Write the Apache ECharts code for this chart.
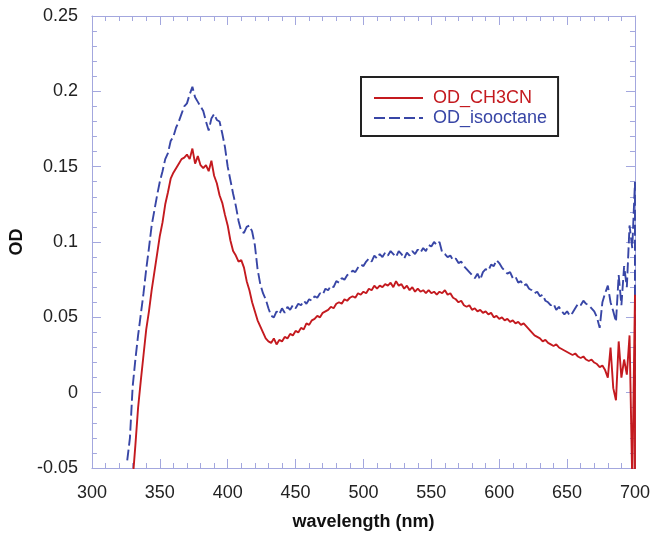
<!DOCTYPE html>
<html>
<head>
<meta charset="utf-8">
<script src="https://cdn.jsdelivr.net/npm/echarts@6/dist/echarts.min.js"></script>
<style>
  html, body { margin: 0; padding: 0; background: #fff; }
  #chart { width: 653px; height: 536px; }
</style>
</head>
<body>
<div id="chart"></div>
<script>
var wavelengths = [
  326, 328, 330, 332, 334, 336, 338, 340, 342, 344, 346, 348, 350, 352, 354, 356, 358, 360, 362, 364,
  366, 368, 370, 372, 374, 376, 378, 380, 382, 384, 386, 388, 390, 392, 394, 396, 398, 400, 402, 404,
  406, 408, 410, 412, 414, 416, 418, 420, 422, 424, 426, 428, 430, 432, 434, 436, 438, 440, 442, 444,
  446, 448, 450, 452, 454, 456, 458, 460, 462, 464, 466, 468, 470, 472, 474, 476, 478, 480, 482, 484,
  486, 488, 490, 492, 494, 496, 498, 500, 502, 504, 506, 508, 510, 512, 514, 516, 518, 520, 522, 524,
  526, 528, 530, 532, 534, 536, 538, 540, 542, 544, 546, 548, 550, 552, 554, 556, 558, 560, 562, 564,
  566, 568, 570, 572, 574, 576, 578, 580, 582, 584, 586, 588, 590, 592, 594, 596, 598, 600, 602, 604,
  606, 608, 610, 612, 614, 616, 618, 620, 622, 624, 626, 628, 630, 632, 634, 636, 638, 640, 642, 644,
  646, 648, 650, 652, 654, 656, 658, 660, 662, 664, 666, 668, 670, 672, 674, 676, 678, 680, 682, 684,
  686, 688, 690, 692, 694, 696, 698, 700, 700
];

// OD in acetonitrile (solid red)
var odCH3CN = [
  -0.110, -0.085, -0.058, -0.035, -0.010, 0.008, 0.025, 0.042, 0.054, 0.068, 0.080, 0.092, 0.104, 0.113, 0.125, 0.133, 0.142, 0.146, 0.149, 0.152,
  0.155, 0.156, 0.158, 0.155, 0.162, 0.152, 0.157, 0.151, 0.149, 0.151, 0.147, 0.154, 0.144, 0.139, 0.131, 0.126, 0.118, 0.111, 0.101, 0.094,
  0.091, 0.087, 0.088, 0.083, 0.074, 0.068, 0.060, 0.054, 0.048, 0.044, 0.040, 0.036, 0.034, 0.033, 0.036, 0.032, 0.035, 0.034, 0.037, 0.036,
  0.039, 0.038, 0.041, 0.040, 0.043, 0.042, 0.046, 0.045, 0.048, 0.049, 0.051, 0.050, 0.053, 0.054, 0.055, 0.057, 0.056, 0.059, 0.060, 0.059,
  0.062, 0.061, 0.063, 0.064, 0.063, 0.066, 0.065, 0.067, 0.066, 0.069, 0.068, 0.071, 0.069, 0.071, 0.070, 0.072, 0.071, 0.073, 0.070, 0.074,
  0.071, 0.072, 0.069, 0.071, 0.068, 0.070, 0.067, 0.069, 0.067, 0.068, 0.066, 0.068, 0.066, 0.067, 0.065, 0.067, 0.066, 0.068, 0.065, 0.066,
  0.063, 0.062, 0.060, 0.061, 0.058, 0.057, 0.058, 0.055, 0.056, 0.054, 0.055, 0.053, 0.054, 0.052, 0.053, 0.050, 0.051, 0.049, 0.050, 0.048,
  0.049, 0.047, 0.048, 0.046, 0.047, 0.045, 0.046, 0.044, 0.042, 0.040, 0.038, 0.037, 0.036, 0.034, 0.035, 0.033, 0.032, 0.031, 0.032, 0.030,
  0.029, 0.028, 0.027, 0.026, 0.025, 0.026, 0.024, 0.023, 0.024, 0.022, 0.021, 0.022, 0.020, 0.019, 0.017, 0.018, 0.015, 0.010, 0.030, 0.003,
  -0.005, 0.034, 0.010, 0.022, 0.012, 0.038, -0.060, 0.065, -0.060
];

// OD in isooctane (dashed blue)
var odIsooctane = [
  -0.045, -0.030, 0.004, 0.022, 0.038, 0.052, 0.066, 0.082, 0.096, 0.111, 0.121, 0.131, 0.140, 0.147, 0.155, 0.159, 0.167, 0.170, 0.176, 0.180,
  0.185, 0.190, 0.192, 0.198, 0.203, 0.196, 0.193, 0.190, 0.187, 0.180, 0.174, 0.182, 0.185, 0.181, 0.180, 0.172, 0.163, 0.150, 0.141, 0.132,
  0.124, 0.114, 0.107, 0.106, 0.110, 0.111, 0.107, 0.098, 0.082, 0.072, 0.066, 0.062, 0.056, 0.051, 0.050, 0.054, 0.052, 0.056, 0.053, 0.057,
  0.055, 0.058, 0.056, 0.059, 0.058, 0.061, 0.059, 0.062, 0.061, 0.064, 0.063, 0.066, 0.065, 0.069, 0.068, 0.071, 0.070, 0.074, 0.073, 0.076,
  0.075, 0.078, 0.079, 0.081, 0.080, 0.083, 0.085, 0.084, 0.087, 0.089, 0.087, 0.091, 0.089, 0.092, 0.090, 0.093, 0.091, 0.094, 0.092, 0.090,
  0.094, 0.092, 0.089, 0.093, 0.091, 0.094, 0.092, 0.095, 0.093, 0.096, 0.094, 0.098, 0.097, 0.100, 0.098, 0.100, 0.093, 0.092, 0.090, 0.091,
  0.088, 0.089, 0.086, 0.087, 0.084, 0.082, 0.080, 0.078, 0.076, 0.079, 0.075, 0.080, 0.082, 0.081, 0.085, 0.084, 0.088, 0.086, 0.083, 0.081,
  0.079, 0.080, 0.076, 0.077, 0.073, 0.074, 0.071, 0.072, 0.069, 0.068, 0.066, 0.067, 0.064, 0.065, 0.061, 0.060, 0.058, 0.059, 0.055, 0.057,
  0.054, 0.052, 0.054, 0.051, 0.053, 0.056, 0.059, 0.058, 0.061, 0.059, 0.058, 0.056, 0.054, 0.050, 0.043, 0.060, 0.066, 0.071, 0.060, 0.054,
  0.047, 0.078, 0.058, 0.084, 0.070, 0.111, 0.096, 0.140, 0.002
];

var seriesNames = ['OD_CH3CN', 'OD_isooctane'];
var seriesColors = ['#c41a1f', '#3846a6'];
var axisColor = '#a3a7de';

function pairs(ys) {
  return wavelengths.map(function (x, i) { return [x, ys[i]]; });
}

var chart = echarts.init(document.getElementById('chart'), null, { renderer: 'canvas' });

var frameAxis = {
  axisLine: { show: true, onZero: false, lineStyle: { color: axisColor, width: 1 } },
  axisTick: { show: true, inside: true, length: 9, lineStyle: { color: axisColor } },
  minorTick: { show: true, splitNumber: 5, length: 5, lineStyle: { color: axisColor } },
  splitLine: { show: false }
};

var option = {
  animation: false,
  backgroundColor: '#fff',
  grid: { left: 90, right: 17, top: 16, bottom: 65 },
  legend: {
    left: 361,
    top: 77,
    orient: 'vertical',
    padding: [12, 11, 9, 12],
    itemGap: 2,
    itemWidth: 49,
    itemHeight: 18,
    borderColor: '#222',
    borderWidth: 2,
    borderRadius: 0,
    backgroundColor: '#fff',
    itemStyle: { opacity: 0 },
    textStyle: { fontFamily: 'Liberation Sans', fontSize: 18, padding: [0, 0, 0, 5] },
    data: [
      { name: seriesNames[0], textStyle: { color: seriesColors[0] } },
      { name: seriesNames[1], textStyle: { color: seriesColors[1] } }
    ]
  },
  xAxis: [
    Object.assign({}, frameAxis, {
      type: 'value', position: 'bottom', min: 300, max: 700, interval: 50,
      name: 'wavelength (nm)', nameLocation: 'middle', nameGap: 45,
      nameTextStyle: { fontFamily: 'Liberation Sans', fontSize: 18, fontWeight: 'bold', color: '#111' },
      axisLabel: { margin: 16, fontFamily: 'Liberation Sans', fontSize: 18, color: '#222' }
    }),
    Object.assign({}, frameAxis, {
      type: 'value', position: 'top', min: 300, max: 700, interval: 50,
      axisLabel: { show: false }
    })
  ],
  yAxis: [
    Object.assign({}, frameAxis, {
      type: 'value', position: 'left', min: -0.05, max: 0.25, interval: 0.05,
      name: 'OD', nameLocation: 'middle', nameGap: 64,
      nameTextStyle: { fontFamily: 'Liberation Sans', fontSize: 18, fontWeight: 'bold', color: '#111' },
      axisLabel: {
        margin: 14, fontFamily: 'Liberation Sans', fontSize: 18, color: '#222',
        formatter: function (v) { return String(+v.toFixed(2)); }
      }
    }),
    Object.assign({}, frameAxis, {
      type: 'value', position: 'right', min: -0.05, max: 0.25, interval: 0.05,
      axisLabel: { show: false }
    })
  ],
  series: [
    {
      name: seriesNames[0],
      type: 'line',
      data: pairs(odCH3CN),
      showSymbol: false,
      symbol: 'none',
      color: seriesColors[0],
      lineStyle: { color: seriesColors[0], width: 1.9 },
      z: 3
    },
    {
      name: seriesNames[1],
      type: 'line',
      data: pairs(odIsooctane),
      showSymbol: false,
      symbol: 'none',
      color: seriesColors[1],
      lineStyle: { color: seriesColors[1], width: 1.9, type: [11, 4] },
      z: 2
    }
  ]
};

chart.setOption(option);
window.addEventListener('resize', chart.resize);
</script>
</body>
</html>
